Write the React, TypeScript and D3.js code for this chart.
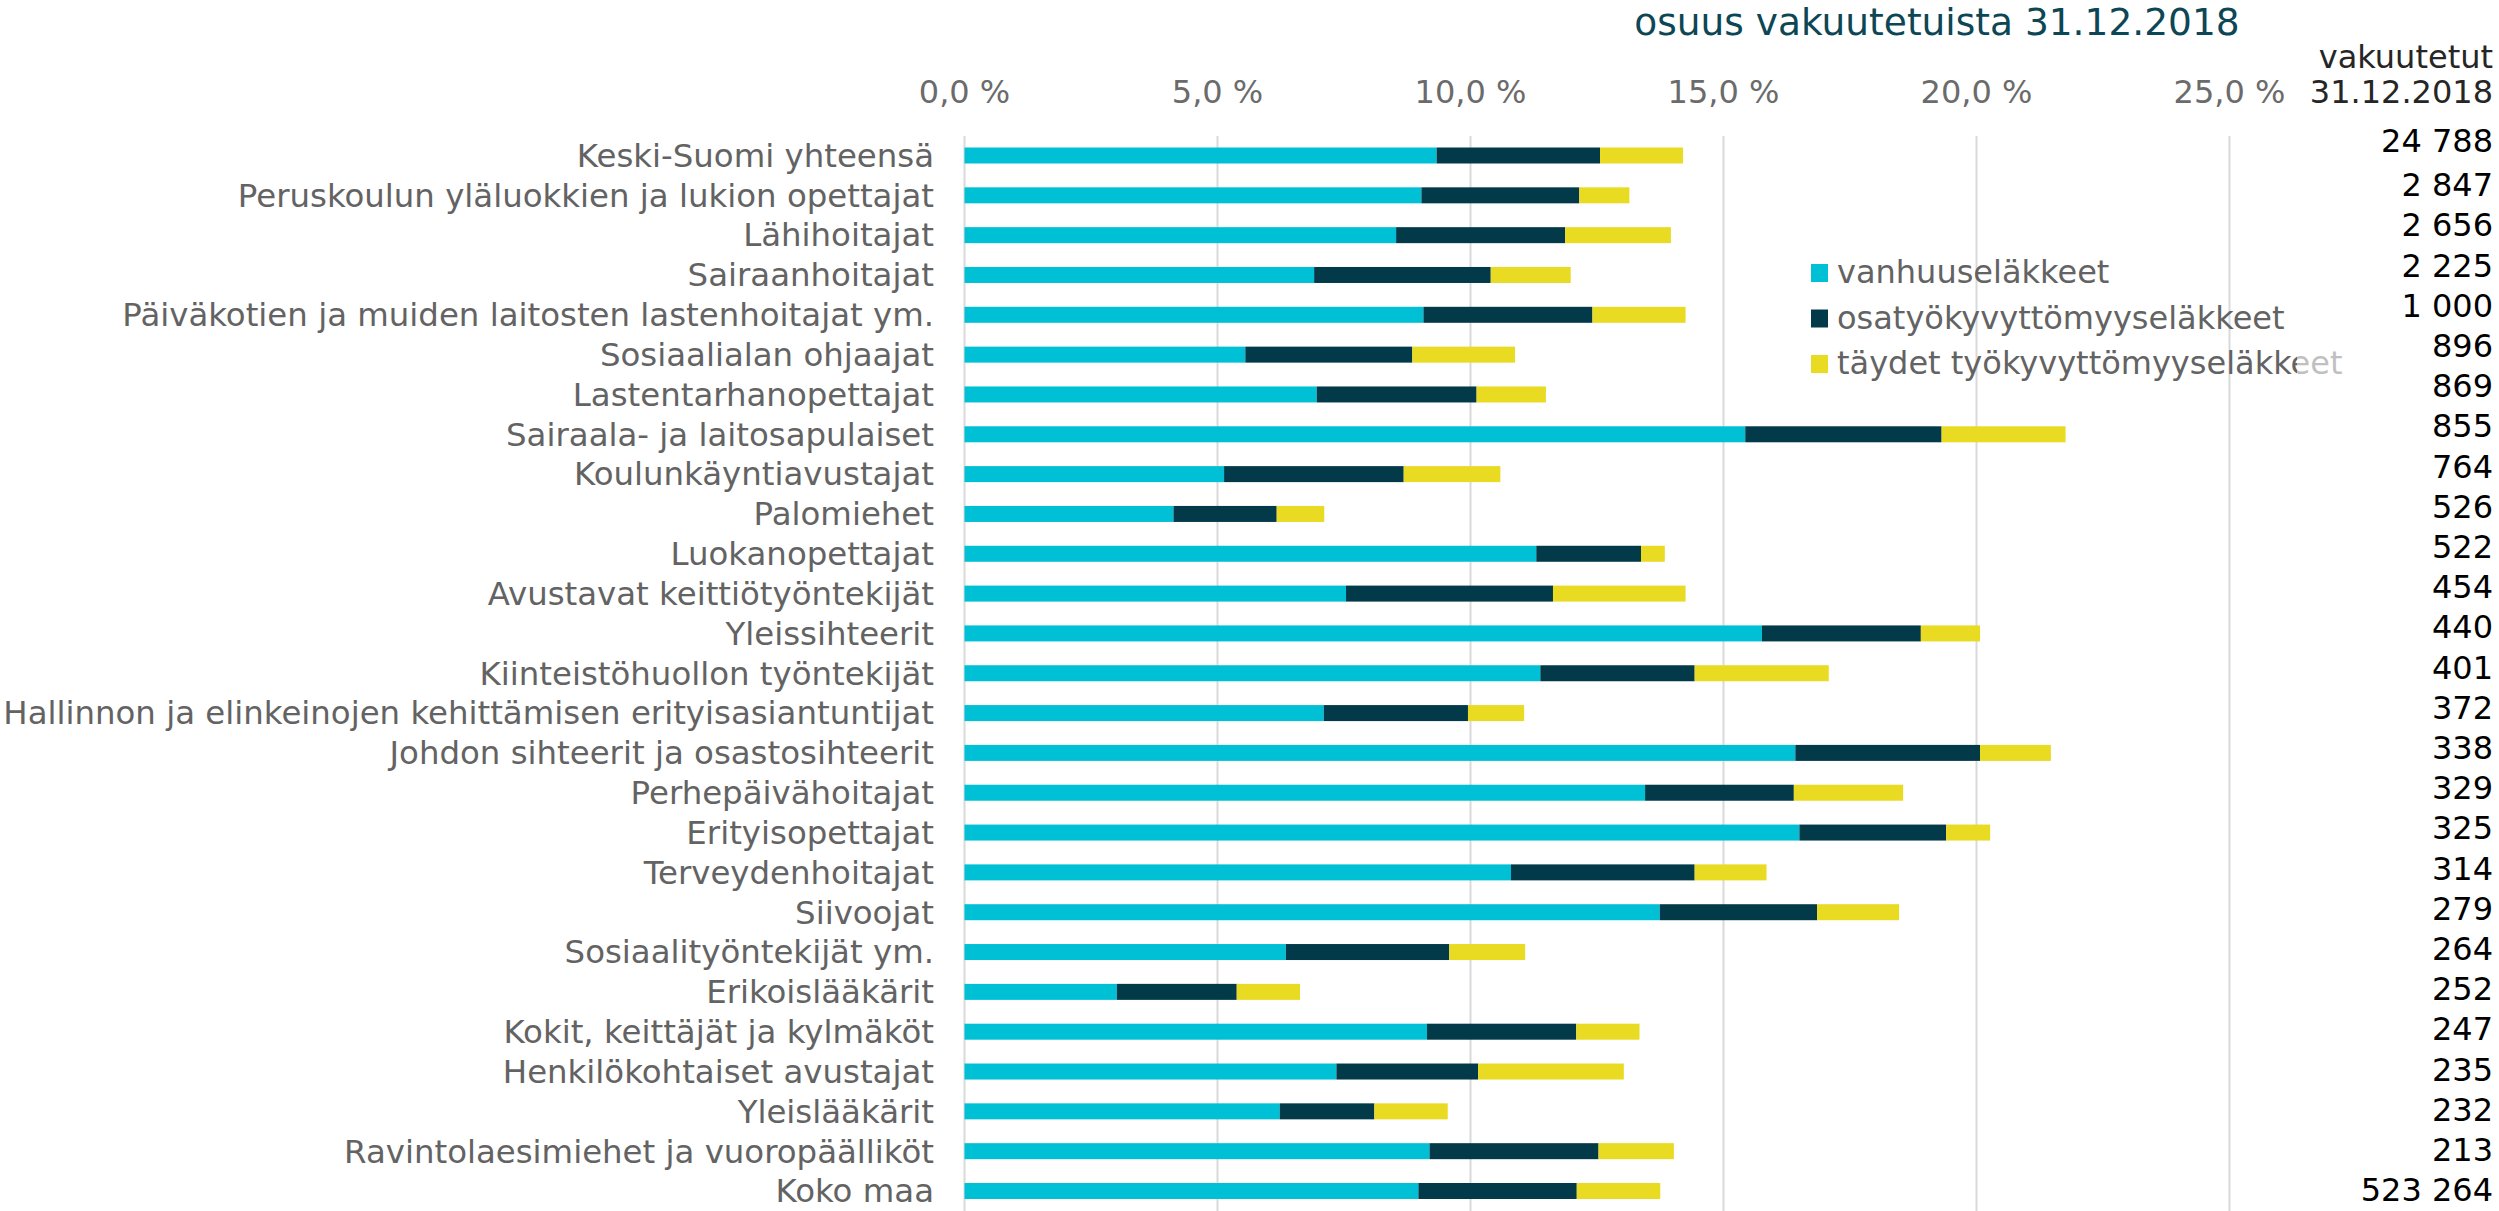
import React from "react";
import * as d3 from "d3";

const categories = [
  "Keski-Suomi yhteensä",
  "Peruskoulun yläluokkien ja lukion opettajat",
  "Lähihoitajat",
  "Sairaanhoitajat",
  "Päiväkotien ja muiden laitosten lastenhoitajat ym.",
  "Sosiaalialan ohjaajat",
  "Lastentarhanopettajat",
  "Sairaala- ja laitosapulaiset",
  "Koulunkäyntiavustajat",
  "Palomiehet",
  "Luokanopettajat",
  "Avustavat keittiötyöntekijät",
  "Yleissihteerit",
  "Kiinteistöhuollon työntekijät",
  "Hallinnon ja elinkeinojen kehittämisen erityisasiantuntijat",
  "Johdon sihteerit ja osastosihteerit",
  "Perhepäivähoitajat",
  "Erityisopettajat",
  "Terveydenhoitajat",
  "Siivoojat",
  "Sosiaalityöntekijät ym.",
  "Erikoislääkärit",
  "Kokit, keittäjät ja kylmäköt",
  "Henkilökohtaiset avustajat",
  "Yleislääkärit",
  "Ravintolaesimiehet ja vuoropäälliköt",
  "Koko maa",
];

// % of insured
const vanhuus = [9.33, 9.03, 8.53, 6.91, 9.07, 5.55, 6.96, 15.43, 5.13, 4.13, 11.3, 7.54, 15.76, 11.38, 7.1, 16.42, 13.45, 16.5, 10.8, 13.74, 6.35, 3.01, 9.14, 7.35, 6.23, 9.19, 8.97];
const osatyo = [3.23, 3.12, 3.34, 3.49, 3.34, 3.3, 3.16, 3.88, 3.55, 2.04, 2.07, 4.09, 3.14, 3.05, 2.85, 3.65, 2.94, 2.9, 3.63, 3.11, 3.23, 2.37, 2.95, 2.8, 1.87, 3.34, 3.13];
const taydet = [1.64, 0.99, 2.09, 1.58, 1.84, 2.03, 1.37, 2.45, 1.91, 0.94, 0.47, 2.62, 1.17, 2.65, 1.11, 1.4, 2.16, 0.87, 1.42, 1.62, 1.5, 1.25, 1.25, 2.88, 1.45, 1.49, 1.65];

const vakuutetut = [24788, 2847, 2656, 2225, 1000, 896, 869, 855, 764, 526, 522, 454, 440, 401, 372, 338, 329, 325, 314, 279, 264, 252, 247, 235, 232, 213, 523264];

const seriesNames = ["vanhuuseläkkeet", "osatyökyvyttömyyseläkkeet", "täydet työkyvyttömyyseläkkeet"];
const seriesColors = ["#00c0d6", "#033a4a", "#e9da22"];
const xTicks = [0, 5, 10, 15, 20, 25];

const W = 2499;
const H = 1211;
const FONT = "'DejaVu Sans', Verdana, sans-serif";

function App() {
  const rows = categories.map((c, i) => ({
    cat: c,
    s0: vanhuus[i],
    s1: osatyo[i],
    s2: taydet[i],
  }));
  const stacked = d3.stack<any>().keys(["s0", "s1", "s2"])(rows);

  const x = d3.scaleLinear().domain([0, 25]).range([964.5, 2229.5]);
  const y = d3.scalePoint().domain(categories).range([155.5, 1191]);
  // the count column sits slightly off the bar rows
  const numY = d3.scaleLinear().domain([1, 26]).range([185, 1190]);
  const barH = 16;

  const fmt = d3.formatLocale({ decimal: ",", thousands: " ", grouping: [3], currency: ["", ""] }).format(",d");
  const fmtPct = (d: number) => d3.format(".1f")(d).replace(".", ",") + " %";

  return (
    <svg width={W} height={H} style={{ position: "absolute", left: 0, top: 0, background: "#fff" }} fontFamily={FONT}>
      <rect width={W} height={H} fill="#fff" />
      {/* gridlines */}
      {xTicks.map((t) => (
        <line key={t} x1={x(t)} x2={x(t)} y1={136} y2={H} stroke="#d9d9d9" strokeWidth={2} />
      ))}
      {/* tick labels */}
      {xTicks.map((t) => (
        <text key={"t" + t} x={x(t)} y={103} textAnchor="middle" fontSize={32} fill="#6b6b6b">
          {fmtPct(t)}
        </text>
      ))}
      {/* bars */}
      {stacked.map((s, k) => (
        <g key={k} fill={seriesColors[k]}>
          {s.map((d: any, i: number) => (
            <rect
              key={i}
              x={x(d[0])}
              width={x(d[1]) - x(d[0])}
              y={(y(categories[i]) as number) - barH / 2}
              height={barH}
            />
          ))}
        </g>
      ))}
      {/* category labels */}
      {categories.map((c) => (
        <text key={c} x={934} y={y(c)} dy="0.35em" textAnchor="end" fontSize={32.4} fill="#636363">
          {c}
        </text>
      ))}
      {/* legend */}
      {seriesNames.map((n, k) => (
        <g key={n} transform={`translate(1811, ${264 + k * 45.5})`}>
          <rect width={17} height={18} fill={seriesColors[k]} />
          <text x={26} y={19} fontSize={32} fill="#636363">
            {n}
          </text>
        </g>
      ))}
      {/* numbers column box */}
      <rect x={2297} y={0} width={W - 2297} height={H} fill="#fff" opacity={0.6} />
      <text x={1937} y={35} textAnchor="middle" fontSize={37.5} fill="#0d4654">
        osuus vakuutetuista 31.12.2018
      </text>
      <text x={2493} y={68} textAnchor="end" fontSize={32} fill="#262626">
        vakuutetut
      </text>
      <text x={2493} y={103} textAnchor="end" fontSize={32} fill="#262626">
        31.12.2018
      </text>
      {vakuutetut.map((v, i) => (
        <text key={i} x={2493} y={i === 0 ? numY(0) - 4 : numY(i)} dy="0.35em" textAnchor="end" fontSize={32} fill="#000">
          {fmt(v)}
        </text>
      ))}
    </svg>
  );
}

export default App;
